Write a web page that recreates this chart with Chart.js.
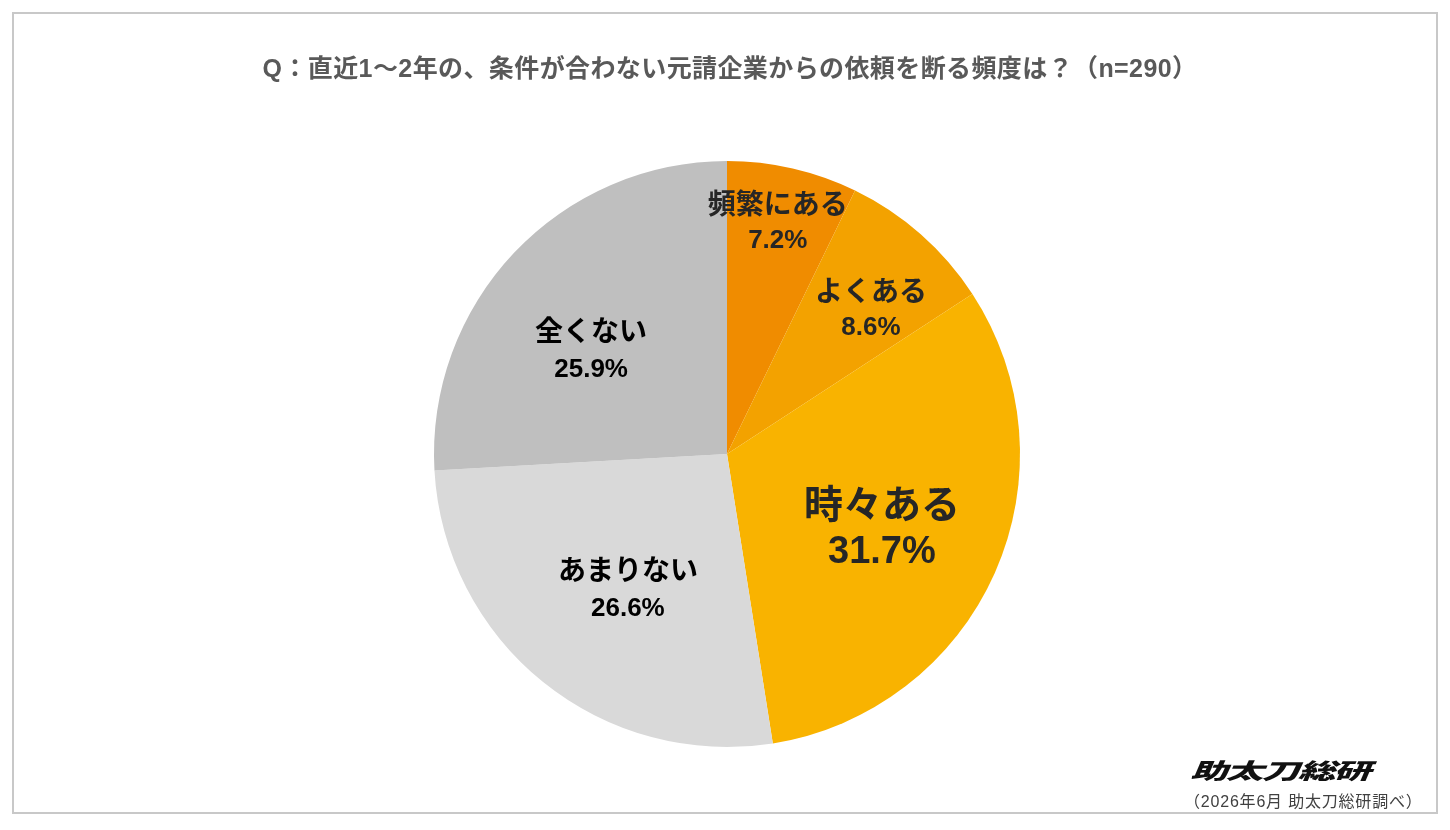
<!DOCTYPE html>
<html lang="ja">
<head>
<meta charset="utf-8">
<script src="https://cdn.jsdelivr.net/npm/chart.js@4.4.1/dist/chart.umd.min.js"></script>
<style>
    html, body { margin: 0; padding: 0; background: #fff; }
    body { width: 1450px; height: 830px; position: relative; overflow: hidden;
           font-family: "Liberation Sans", "Noto Sans CJK JP", sans-serif; }
    .frame { position: absolute; left: 12px; top: 12px; width: 1426px; height: 802px;
             border: 2px solid #c8c8c8; box-sizing: border-box; }
    .title { position: absolute; left: 5px; width: 1450px; top: 48px; text-align: center;
             font-size: 25px; font-weight: bold; color: #595959; letter-spacing: 0.4px; }
    .chart-wrap { position: absolute; left: 0; top: 0; width: 1450px; height: 830px; }
    .logo { position: absolute; left: 1201px; top: 753px; font-family: "Noto Sans CJK JP";
            font-size: 22px; font-weight: 900; color: #111; transform-origin: left top;
            transform: scaleX(1.71) skewX(-14deg); letter-spacing: -1px; }
    .source { position: absolute; left: 1184px; top: 788px; font-size: 16px; color: #404040;
              letter-spacing: 0.8px; }
</style>
</head>
<body>
<div class="frame"></div>
<div class="chart-wrap"><canvas id="pieChart" width="1450" height="830"></canvas></div>
<div class="title">Q：直近1～2年の、条件が合わない元請企業からの依頼を断る頻度は？（n=290）</div>
<div class="logo">助太刀総研</div>
<div class="source">（2026年6月 助太刀総研調べ）</div>
<script>
const categories = ['頻繁にある', 'よくある', '時々ある', 'あまりない', '全くない'];
const shares = [7.2, 8.6, 31.7, 26.6, 25.9];

const sliceColors = ['#f08c00', '#f3a200', '#f9b300', '#d9d9d9', '#bfbfbf'];
const labelColors = ['#262626', '#262626', '#262626', '#000000', '#000000'];
// label placement: fraction of radius and angle nudge (degrees) from slice middle
const labelRadius = [0.816, 0.701, 0.584, 0.569, 0.586];
const labelShift = [-0.7, 3.1, 1.2, -2.4, -5.7];
const nameFont = [28, 28, 39, 28, 28];
const valueFont = [26, 26, 38, 26, 26];
const lineGap = [35, 35, 47, 37, 37];

// Labels drawn inside each slice
const sliceLabels = {
    id: 'sliceLabels',
    afterDatasetsDraw(chart) {
        const ctx = chart.ctx;
        const meta = chart.getDatasetMeta(0);
        meta.data.forEach((arc, i) => {
            const p = arc.getProps(['x', 'y', 'startAngle', 'endAngle', 'outerRadius'], true);
            const mid = (p.startAngle + p.endAngle) / 2 + labelShift[i] * Math.PI / 180;
            const r = p.outerRadius * labelRadius[i];
            const x = p.x + Math.cos(mid) * r;
            const y = p.y + Math.sin(mid) * r;
            const half = lineGap[i] / 2;
            ctx.save();
            ctx.fillStyle = labelColors[i];
            ctx.textAlign = 'center';
            ctx.textBaseline = 'middle';
            ctx.font = 'bold ' + nameFont[i] + 'px "Noto Sans CJK JP", sans-serif';
            ctx.fillText(categories[i], x, y - half);
            ctx.font = 'bold ' + valueFont[i] + 'px "Liberation Sans", sans-serif';
            ctx.fillText(shares[i].toFixed(1) + '%', x, y + half + 2.5);
            ctx.restore();
        });
    }
};

new Chart(document.getElementById('pieChart'), {
    type: 'pie',
    data: {
        labels: categories,
        datasets: [{
            data: shares,
            backgroundColor: sliceColors,
            borderWidth: 0
        }]
    },
    options: {
        responsive: false,
        animation: false,
        layout: {
            padding: { left: 434, right: 430, top: 161, bottom: 83 }
        },
        plugins: {
            legend: { display: false },
            tooltip: { enabled: false }
        }
    },
    plugins: [sliceLabels]
});
</script>
</body>
</html>
